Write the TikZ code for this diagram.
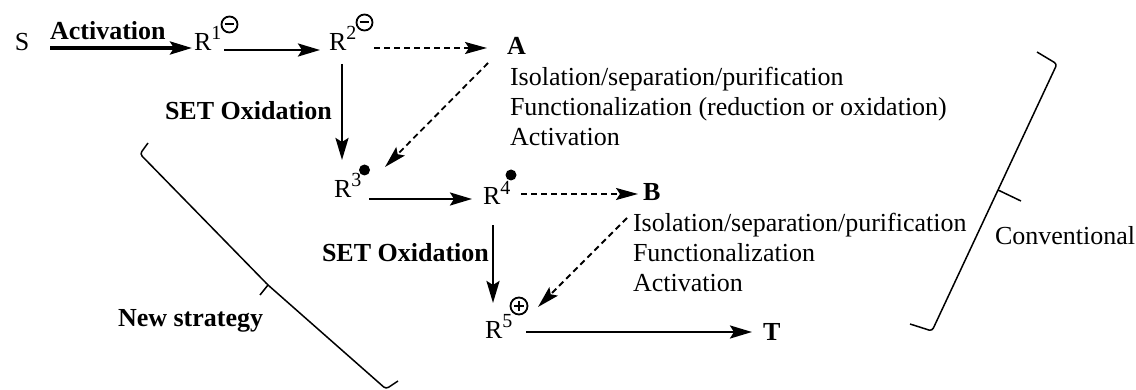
\documentclass[tikz,border=0pt]{standalone}
\usepackage{fontspec}
\setmainfont{Liberation Serif}
\usetikzlibrary{arrows.meta}
\newcommand{\rsup}[1]{\raisebox{5.5pt}{\fontsize{10}{10}\selectfont #1}}

\begin{document}
\begin{tikzpicture}[
x=0.5pt,y=-0.5pt,
every node/.style={inner sep=0pt,outer sep=0pt,font=\fontsize{13}{15}\selectfont},
boldlbl/.style={font=\fontsize{13}{15}\selectfont\bfseries},
rxn/.style={line width=1.3pt,-{Stealth[length=11pt,width=6.5pt,inset=2pt]}},
rxnbold/.style={rxn,line width=1.8pt},
alt/.style={line width=0.9pt,dash pattern=on 3pt off 2pt,-{Stealth[length=11pt,width=6pt,inset=2pt]}},
anion/.style={circle,draw,line width=0.9pt,minimum size=8pt,
  path picture={\draw[line width=1pt] ([xshift=-2.4pt]path picture bounding box.center) -- ([xshift=2.4pt]path picture bounding box.center);}},
cation/.style={circle,draw,line width=0.9pt,minimum size=8.5pt,
  path picture={\draw[line width=1pt] ([xshift=-2.5pt]path picture bounding box.center) -- ([xshift=2.5pt]path picture bounding box.center)
    ([yshift=-2.5pt]path picture bounding box.center) -- ([yshift=2.5pt]path picture bounding box.center);}},
radical/.style={circle,fill,minimum size=5.5pt},
bracket/.style={line width=0.75pt,rounded corners=1.5pt}
]
\useasboundingbox (0,0) rectangle (1136,390);

% species
\node[anchor=base west] (s) at (15,51) {S};
\node[anchor=base west] (r1) at (194,51) {R\rsup{1}};
\node[anion] (c1) at (229.5,24.5) {};
\node[anchor=base west] (r2) at (329,51) {R\rsup{2}};
\node[anion] (c2) at (364.5,22.5) {};
\node[boldlbl,anchor=base west] (a) at (507,55) {A};
\node[anchor=base west] (r3) at (334,198) {R\rsup{3}};
\node[radical] (d3) at (364.5,170) {};
\node[anchor=base west] (r4) at (483,205) {R\rsup{4}};
\node[radical] (d4) at (511,175) {};
\node[boldlbl,anchor=base west] (b) at (643,200) {B};
\node[anchor=base west] (r5) at (485,338) {R\rsup{5}};
\node[cation] (c5) at (519,306) {};
\node[boldlbl,anchor=base west] (t) at (763,340) {T};

% side notes
\node[anchor=base west] (ia1) at (510,86) {Isolation/separation/purification};
\node[anchor=base west] (ia2) at (510,116) {Functionalization (reduction or oxidation)};
\node[anchor=base west] (ia3) at (510,146) {Activation};
\node[anchor=base west] (ib1) at (633,232) {Isolation/separation/purification};
\node[anchor=base west] (ib2) at (633,262) {Functionalization};
\node[anchor=base west] (ib3) at (633,292) {Activation};
\node[boldlbl,anchor=base west] (ox1) at (165,120) {SET Oxidation};
\node[boldlbl,anchor=base west] (ox2) at (322,262) {SET Oxidation};
\node[boldlbl,anchor=base west] (newst) at (118,326) {New strategy};
\node[anchor=base west] (conv) at (995,244) {Conventional};

% arrows
\draw[rxnbold] ([xshift=10.3pt,yshift=1.5pt]s.base east) -- ([xshift=-1pt,yshift=1.5pt]r1.base west)
  node[boldlbl,anchor=base west,pos=0,yshift=4pt] (act) {Activation};
\draw[rxn] ([xshift=1.5pt,yshift=0.5pt]r1.base east) -- ([xshift=-4.5pt,yshift=0.5pt]r2.base west);
\draw[alt] ([xshift=9pt,yshift=1.5pt]r2.base east) -- ([xshift=-10pt,yshift=3.5pt]a.base west);
\draw[rxn] ([xshift=6.5pt,yshift=-6.5pt]r2.base west) -- ([xshift=4pt,yshift=19pt]r3.base west);
\draw[alt] ([xshift=-9.5pt,yshift=-4pt]a.base west) -- ([xshift=25.5pt,yshift=15.5pt]r3.base west);
\draw[rxn] ([xshift=4pt,yshift=-0.5pt]r3.base east) -- ([xshift=-5.5pt,yshift=3pt]r4.base west);
\draw[alt] ([xshift=5.5pt,yshift=5.5pt]r4.base east) -- ([xshift=-2.5pt,yshift=3pt]b.base west);
\draw[rxn] ([xshift=5pt,yshift=-10pt]r4.base west) -- ([xshift=4pt,yshift=17.5pt]r5.base west);
\draw[alt] ([xshift=-8pt,yshift=-9pt]b.base west) -- ([xshift=26.5pt,yshift=15.5pt]r5.base west);
\draw[rxn] ([xshift=7pt,yshift=3pt]r5.base east) -- ([xshift=-5.5pt,yshift=4pt]t.base west);

% brackets
\draw[bracket] (148,143) -- (140,154) -- (268,285) -- (386,389) -- (398,381);
\draw[bracket] (268,285) -- (260,295);
\draw[bracket] (1037,52) -- (1057,64) -- (998,190) -- (932,331) -- (910,324);
\draw[bracket] (998,190) -- (1021,201);
\end{tikzpicture}
\end{document}
